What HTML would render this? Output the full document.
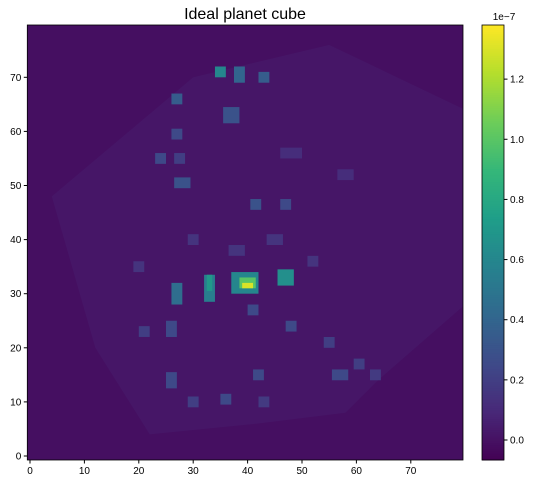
<!DOCTYPE html>
<html><head><meta charset="utf-8"><style>
body{margin:0;background:#fff;font-family:"Liberation Sans",sans-serif;}
svg text{font-family:"Liberation Sans",sans-serif;font-size:10px;fill:#000;}
</style></head><body>
<svg id="fig" width="534" height="484">
<defs><clipPath id="pc"><rect x="27.3" y="25" width="435.7" height="435"/></clipPath></defs>
<text x="245" y="19" text-anchor="middle" style="font-size:16px">Ideal planet cube</text>
<g id="plot" clip-path="url(#pc)"></g>
<g id="axes"></g>
<g id="cbar"></g>
</svg>
<script>
// Blob data (data coords: center x, center y, width, height, value in 1e-7)
const blobX = [40,40,39.5,33,33,27,47,35,38.5,43,27,37,27,24,27.5,28,41.5,47,41,48,21,26,55,57,60.5,26,42,30,36,43,63.5,45,38,52,30,20,48,58];
const blobY = [31.5,32,32,31,32,30,33,71,70.5,70,66,63,59.5,55,55,50.5,46.5,46.5,27,24,23,23.5,21,15,17,14,15,10,10.5,10,15,40,38,36,40,35,56,52];
const blobW = [2,3,5,2,1,2,3,2,2,2,2,3,2,2,2,3,2,2,2,2,2,2,2,3,2,2,2,2,2,2,2,3,3,2,2,2,4,3];
const blobH = [1,2,4,5,3,4,3,2,3,2,2,3,2,2,2,2,2,2,2,2,2,3,2,2,2,3,2,2,2,2,2,2,2,2,2,2,2,2];
const blobV = [1.3,1.0,0.6,0.55,0.7,0.45,0.65,0.6,0.4,0.35,0.35,0.3,0.25,0.25,0.2,0.3,0.3,0.25,0.25,0.25,0.2,0.25,0.2,0.25,0.2,0.25,0.25,0.2,0.25,0.18,0.18,0.15,0.15,0.15,0.15,0.15,0.12,0.12];
const diskX = [4,30,55,80,80,64,58,42,22,12];
const diskY = [48,70,76,64,28,14,8,6,4,20];
const diskV = 0.02;
const bgV = -0.01;
const xTicks = [0,10,20,30,40,50,60,70];
const yTicks = [0,10,20,30,40,50,60,70];
const cTicks = [0.0,0.2,0.4,0.6,0.8,1.0,1.2];

const NS="http://www.w3.org/2000/svg";
const X0=27.3,X1=463,Y0=25,Y1=460;
const sx=v=>30+v*5.44, sy=v=>456-v*5.41;
const vmin=-0.0665,vmax=1.38;
const vir=[[68,1,84],[72,40,120],[62,74,137],[49,104,142],[38,130,142],[31,158,137],[53,183,121],[109,205,89],[180,222,44],[253,231,37]];
function col(v){let t=Math.max(0,Math.min(1,(v-vmin)/(vmax-vmin)))*(vir.length-1);let i=Math.min(Math.floor(t),vir.length-2),f=t-i;
const c=vir[i].map((a,k)=>Math.round(a+(vir[i+1][k]-a)*f));return`rgb(${c})`;}
function mk(tag,attrs,parent){const e=document.createElementNS(NS,tag);for(const k in attrs)e.setAttribute(k,attrs[k]);parent.appendChild(e);return e;}
const plot=document.getElementById('plot'),axes=document.getElementById('axes'),cbar=document.getElementById('cbar');
const bg=mk('rect',{x:X0,y:Y0,width:X1-X0,height:Y1-Y0,fill:col(bgV)},plot);


const disk=mk('polygon',{points:diskX.map((x,i)=>sx(x)+','+sy(diskY[i])).join(' '),fill:col(diskV)},plot);


const order=blobX.map((_,i)=>i).sort((a,b)=>blobV[a]-blobV[b]);
order.forEach(i=>{
 const x=blobX[i],w=blobW[i],h=blobH[i];
 const r=mk('rect',{x:sx(x-w/2),y:sy(blobY[i]+h/2),width:w*5.44,height:h*5.41,fill:col(blobV[i])},plot);
 
 
});
mk('rect',{x:X0,y:Y0,width:X1-X0,height:Y1-Y0,fill:'none',stroke:'#000','stroke-width':0.8},axes);
xTicks.forEach(t=>{mk('line',{x1:sx(t),x2:sx(t),y1:Y1,y2:Y1+3.5,stroke:'#000'},axes);
 const tx=mk('text',{x:sx(t),y:Y1+14,'text-anchor':'middle'},axes);tx.textContent=t;
 
 });
yTicks.forEach(t=>{mk('line',{x1:X0,x2:X0-3.5,y1:sy(t),y2:sy(t),stroke:'#000'},axes);
 const tx=mk('text',{x:X0-6,y:sy(t)+3.5,'text-anchor':'end'},axes);tx.textContent=t;
 
 });
const CX0=482,CX1=504,cy=v=>Y1-(v-vmin)/(vmax-vmin)*(Y1-Y0);
for(let i=0;i<200;i++){const v0=vmin+(vmax-vmin)*i/200,v1=vmin+(vmax-vmin)*(i+1)/200;
 mk('rect',{x:CX0,y:cy(v1),width:CX1-CX0,height:cy(v0)-cy(v1)+0.5,fill:col((v0+v1)/2)},cbar);}
mk('rect',{x:CX0,y:Y0,width:CX1-CX0,height:Y1-Y0,fill:'none',stroke:'#000','stroke-width':0.8},cbar);
cTicks.forEach(t=>{mk('line',{x1:CX1,x2:CX1+3.5,y1:cy(t),y2:cy(t),stroke:'#000'},cbar);
 const tx=mk('text',{x:CX1+6,y:cy(t)+3.5},cbar);tx.textContent=t.toFixed(1);
 
 });
const ex=mk('text',{x:CX1,y:Y0-5,'text-anchor':'middle'},cbar);ex.textContent='1e\u22127';


</script>
</body></html>
